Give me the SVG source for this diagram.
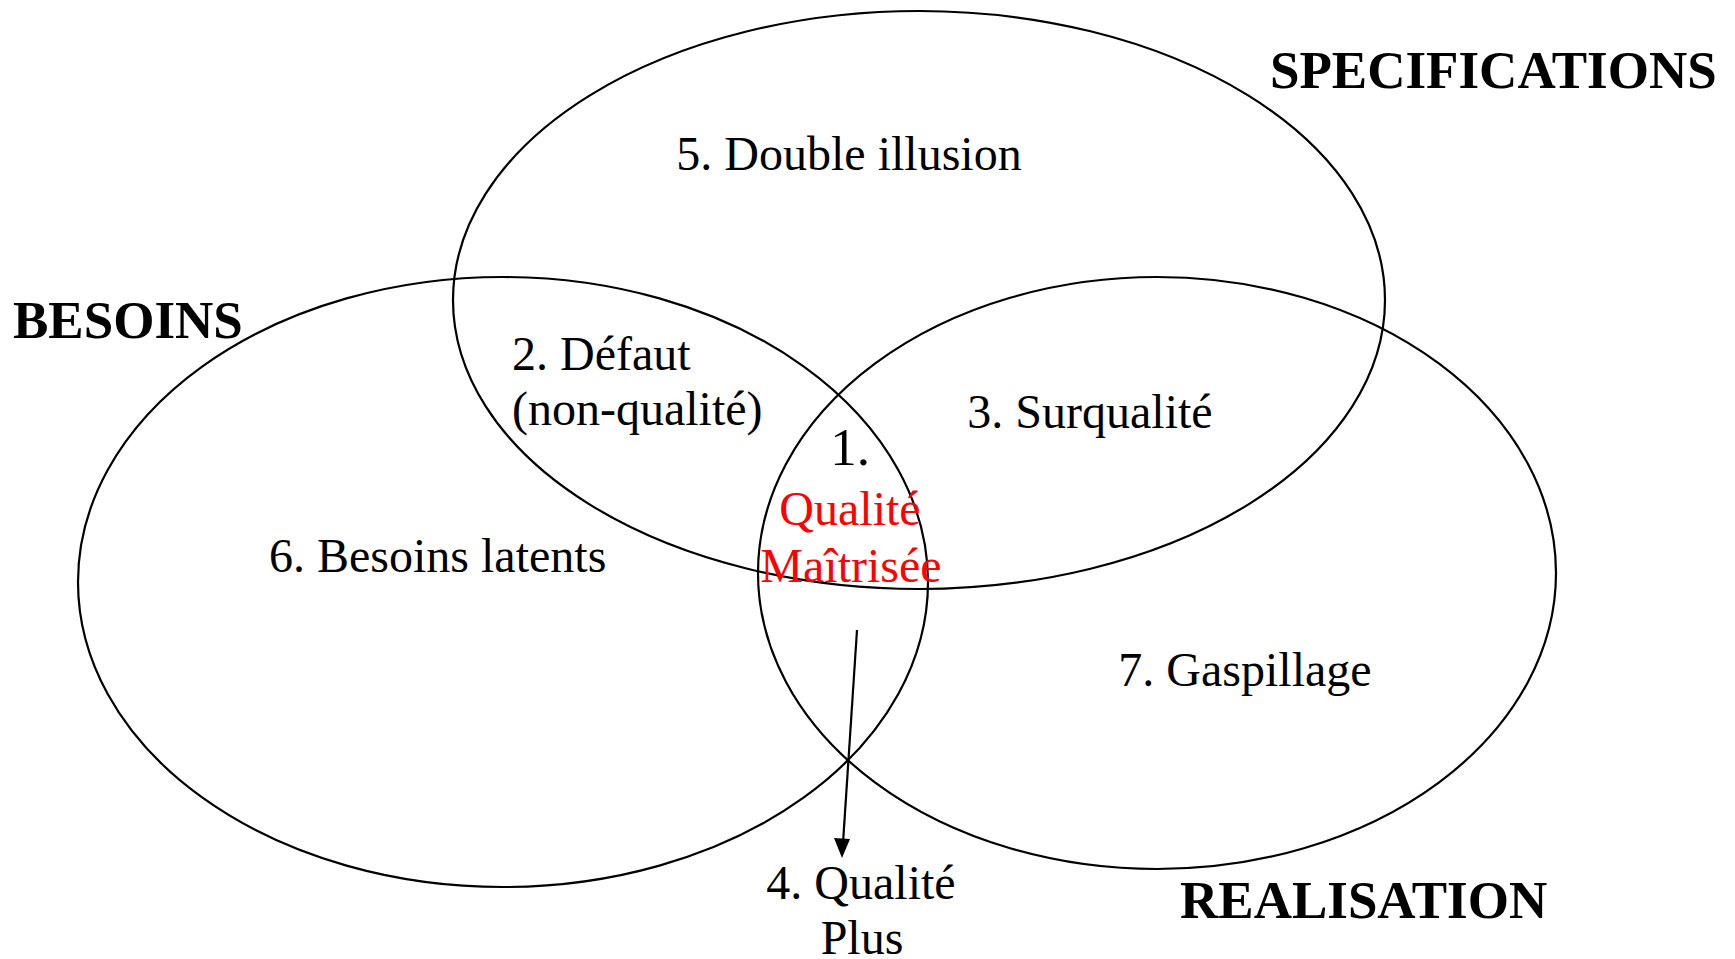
<svg xmlns="http://www.w3.org/2000/svg" width="1735" height="959" viewBox="0 0 1735 959">
<style>
.ell{fill:none;stroke:#000;stroke-width:2.2}
.t{font-family:"Liberation Serif","Times New Roman",serif;font-size:48px;fill:#000}
.b{font-family:"Liberation Serif","Times New Roman",serif;font-size:53px;font-weight:bold;fill:#000}
.r{fill:#ff0000}
.c{stroke:#000;stroke-width:2.2;fill:none}
</style>
<rect width="1735" height="959" fill="#fff"/>
<g id="specifications">
<ellipse class="ell" cx="919" cy="300" rx="466" ry="289"/>
<text class="b" x="1270" y="88">SPECIFICATIONS</text>
</g>
<g id="besoins">
<ellipse class="ell" cx="503" cy="582" rx="425" ry="305"/>
<text class="b" x="13" y="338">BESOINS</text>
</g>
<g id="realisation">
<ellipse class="ell" cx="1157" cy="573" rx="399" ry="296"/>
<text class="b" x="1180" y="918">REALISATION</text>
</g>
<g id="zone5"><text class="t" x="849" y="170" text-anchor="middle">5. Double illusion</text></g>
<g id="zone2"><text class="t" x="512" y="370">2. Défaut</text><text class="t" x="512" y="425">(non-qualité)</text></g>
<g id="zone3"><text class="t" x="1090" y="428" text-anchor="middle">3. Surqualité</text></g>
<g id="zone1">
<text class="t" x="850" y="465" text-anchor="middle" style="font-size:53px">1.</text>
<text class="t r" x="850" y="525" text-anchor="middle">Qualité</text>
<text class="t r" x="851" y="582" text-anchor="middle">Maîtrisée</text>
</g>
<g id="zone6"><text class="t" x="269" y="572">6. Besoins latents</text></g>
<g id="zone7"><text class="t" x="1245" y="686" text-anchor="middle">7. Gaspillage</text></g>
<g id="zone4"><text class="t" x="861" y="899" text-anchor="middle">4. Qualité</text><text class="t" x="862" y="954" text-anchor="middle">Plus</text></g>
<g id="connectors">
<line class="c" x1="857" y1="630" x2="843" y2="843"/>
<path d="M834,838 L850,839 L842,858 Z" fill="#000"/>
</g>
</svg>
